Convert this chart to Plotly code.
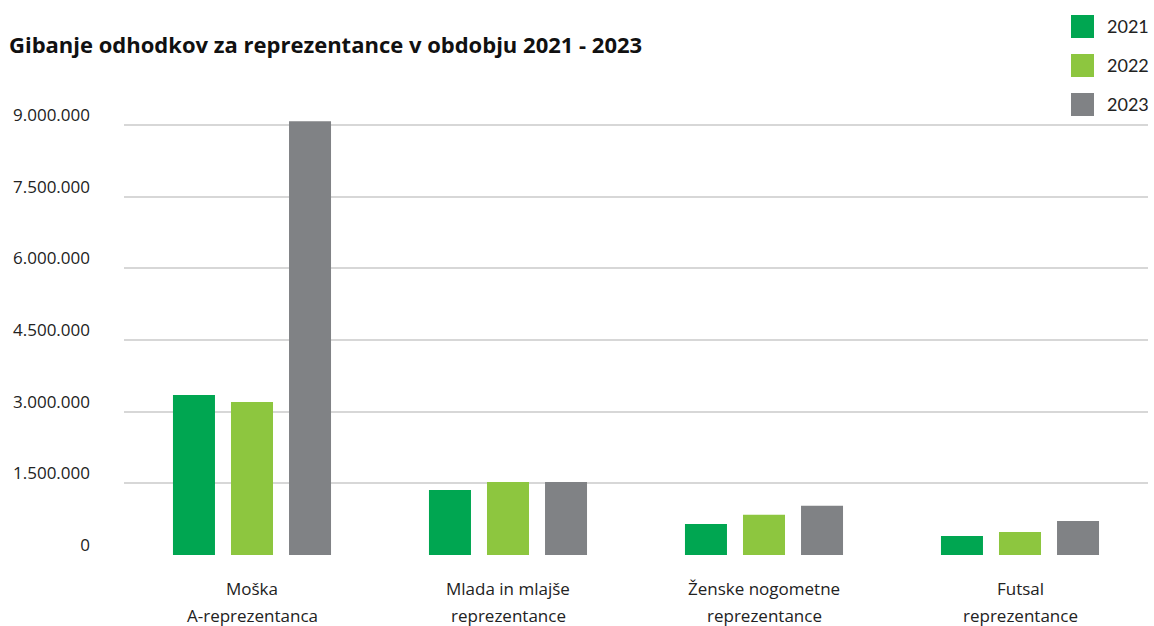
import plotly.graph_objects as go

# Expenditure per national-team category, 2021-2023 (EUR)
categories = ["Moška A-reprezentanca", "Mlada in mlajše reprezentance",
              "Ženske nogometne reprezentance", "Futsal reprezentance"]
label_line1 = ["Moška", "Mlada in mlajše", "Ženske nogometne", "Futsal"]
label_line2 = ["A-reprezentanca", "reprezentance", "reprezentance", "reprezentance"]

years = ["2021", "2022", "2023"]
values_2021 = [3350000, 1360000, 650000, 400000]
values_2022 = [3200000, 1530000, 840000, 480000]
values_2023 = [9080000, 1530000, 1030000, 710000]

tick_values = [0, 1500000, 3000000, 4500000, 6000000, 7500000, 9000000]
tick_labels = ["0", "1.500.000", "3.000.000", "4.500.000", "6.000.000", "7.500.000", "9.000.000"]

colors = ["#00a651", "#8dc63f", "#808285"]
series = [values_2021, values_2022, values_2023]

W, H = 1154, 626
ML, MR, MT, MB = 124, 6, 115, 71
plot_w = W - ML - MR
plot_h = H - MT - MB


def px_x(px):
    return (px - ML) / plot_w


def px_y(py):
    return (H - MB - py) / plot_h


fig = go.Figure()
for year, vals, col in zip(years, series, colors):
    fig.add_trace(go.Bar(
        x=categories, y=vals, name=year,
        marker=dict(color=col, line=dict(width=0)),
        showlegend=False,
    ))

# Custom legend: large colour squares with year labels, top right
for i, (year, col) in enumerate(zip(years, colors)):
    top = 15 + i * 39
    fig.add_shape(type="rect", xref="paper", yref="paper",
                  x0=px_x(1071), x1=px_x(1094), y0=px_y(top + 23), y1=px_y(top),
                  fillcolor=col, line=dict(width=0), layer="above")
    fig.add_annotation(xref="paper", yref="paper", x=px_x(1105), y=px_y(top + 11.5),
                       text=year, showarrow=False, xanchor="left", yanchor="middle",
                       font=dict(family="Lato", size=18, color="#222222"))

# Two-line category labels under each group
for cat, l1, l2 in zip(categories, label_line1, label_line2):
    fig.add_annotation(x=cat, xref="x", yref="paper", y=px_y(588), text=l1,
                       showarrow=False, xanchor="center", yanchor="middle",
                       font=dict(family="Open Sans", size=17, color="#222222"))
    fig.add_annotation(x=cat, xref="x", yref="paper", y=px_y(615), text=l2,
                       showarrow=False, xanchor="center", yanchor="middle",
                       font=dict(family="Open Sans", size=17, color="#222222"))

fig.update_layout(
    width=W, height=H,
    margin=dict(l=ML, r=MR, t=MT, b=MB, autoexpand=False),
    paper_bgcolor="white", plot_bgcolor="white",
    barmode="group", bargap=0.32, bargroupgap=0.276,
    title=dict(text="<b>Gibanje odhodkov za reprezentance v obdobju 2021 - 2023</b>",
               x=9 / W, xanchor="left", xref="container",
               y=1 - 45 / H, yanchor="middle", yref="container",
               font=dict(family="Open Sans", size=22, color="#111111")),
    showlegend=False,
)

fig.update_xaxes(showticklabels=False, showgrid=False, zeroline=False,
                 showline=False, ticks="")
fig.update_yaxes(range=[0, 9000000 * plot_h / 430], tickvals=tick_values,
                 ticktext=tick_labels, showgrid=True, gridcolor="#d7d7d7",
                 gridwidth=2, zeroline=False, showline=False, ticks="",
                 ticklabelstandoff=33, ticklabelshift=-10,
                 tickfont=dict(family="Open Sans", size=17, color="#222222"))

fig.write_html("out.html")
